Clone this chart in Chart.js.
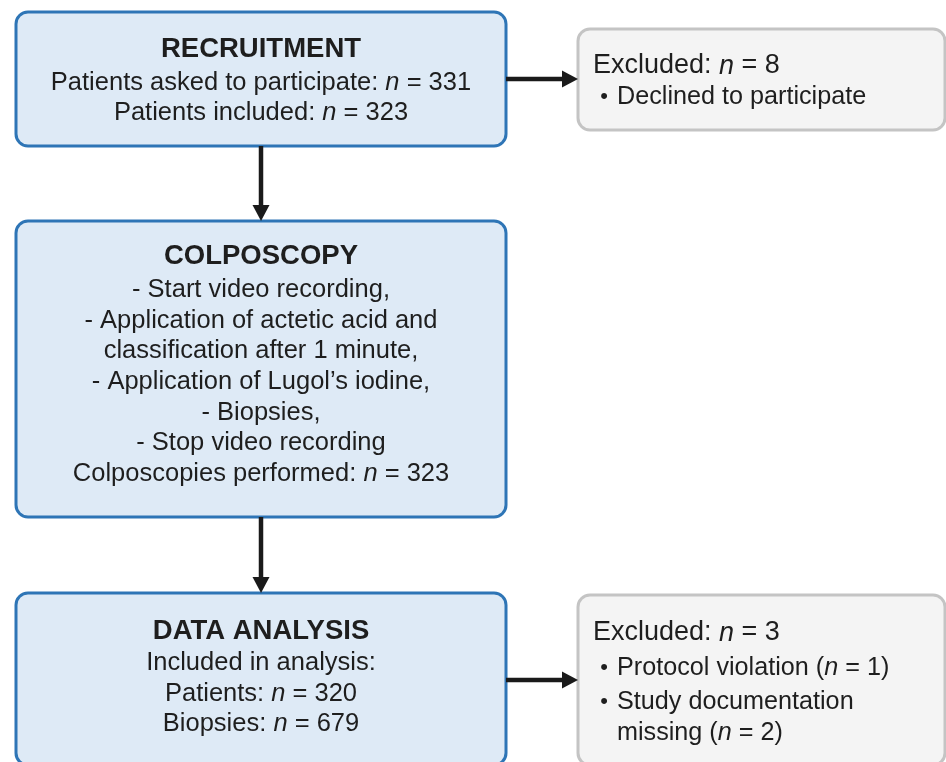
<!DOCTYPE html>
<html>
<head>
<meta charset="utf-8">
<script src="https://cdn.jsdelivr.net/npm/chart.js@4.4.1/dist/chart.umd.min.js"></script>
<style>
  html, body { margin: 0; padding: 0; background: #fff; }
  canvas { display: block; }
</style>
</head>
<body>
<canvas id="flowChart" width="946" height="762"></canvas>
<script>
// values
const stageTitles = ["RECRUITMENT", "COLPOSCOPY", "DATA ANALYSIS"];
const recruitmentN = [331, 323];          // asked, included
const colposcopySteps = [
  "- Start video recording,",
  "- Application of actetic acid and",
  "classification after 1 minute,",
  "- Application of Lugol\u2019s iodine,",
  "- Biopsies,",
  "- Stop video recording"
];
const colposcopyN = [323];
const analysisN = [320, 679];             // patients, biopsies
const excludedN = [8, 3];
const exclusionReasons = [
  [["Declined to participate", null]],
  [["Protocol violation", 1], ["Study documentation|missing", 2]]
];

const FONT = '"Liberation Sans", Arial, sans-serif';
const TEXT = "#1e1e1e";

// italic n = value
function nEq(v) { return [["n", true], [" = " + v, false]]; }
function plain(t) { return [[t, false]]; }

const stageLines = [
  [[["Patients asked to participate: ", false], ...nEq(recruitmentN[0])],
   [["Patients included: ", false], ...nEq(recruitmentN[1])]],
  [...colposcopySteps.map(plain),
   [["Colposcopies performed: ", false], ...nEq(colposcopyN[0])]],
  [plain("Included in analysis:"),
   [["Patients: ", false], ...nEq(analysisN[0])],
   [["Biopsies: ", false], ...nEq(analysisN[1])]]
];

// box geometry (in axis units)
const stageBoxes = [
  { x0: 16, x1: 506, y0: 12, y1: 146, title: 49, lines: [83, 113] },
  { x0: 16, x1: 506, y0: 221, y1: 517, title: 256, lines: [290, 321, 351, 382, 413, 443, 474] },
  { x0: 16, x1: 506, y0: 593, y1: 765, title: 631, lines: [663, 694, 724] }
];
const exclBoxes = [
  { x0: 578, x1: 945, y0: 29, y1: 130, head: 66, lines: [[97]] },
  { x0: 578, x1: 945, y0: 595, y1: 765, head: 633, lines: [[668], [702, 733]] }
];
const flowArrows = [
  { from: [261, 146], to: [261, 221] },
  { from: [261, 517], to: [261, 593] },
  { from: [506, 79], to: [578, 79] },
  { from: [506, 680], to: [578, 680] }
];

function drawRich(ctx, segs, x, y, align, size, bold) {
  const fontFor = (it) => (it ? "italic " : "") + (bold ? "bold " : "") + size + "px " + FONT;
  let total = 0;
  segs.forEach(([t, it]) => { ctx.font = fontFor(it); total += ctx.measureText(t).width; });
  let cx = align === "center" ? x - total / 2 : x;
  ctx.textAlign = "left";
  ctx.textBaseline = "middle";
  ctx.fillStyle = TEXT;
  segs.forEach(([t, it]) => {
    ctx.font = fontFor(it);
    ctx.fillText(t, cx, y);
    cx += ctx.measureText(t).width;
  });
}

function box(ctx, sx, sy, b, fill, stroke) {
  const x0 = sx(b.x0), x1 = sx(b.x1), y0 = sy(b.y0), y1 = sy(b.y1);
  ctx.beginPath();
  ctx.roundRect(x0, y0, x1 - x0, y1 - y0, 12);
  ctx.fillStyle = fill;
  ctx.fill();
  ctx.lineWidth = 3;
  ctx.strokeStyle = stroke;
  ctx.stroke();
}

function arrow(ctx, sx, sy, a) {
  const x0 = sx(a.from[0]), y0 = sy(a.from[1]), x1 = sx(a.to[0]), y1 = sy(a.to[1]);
  const ang = Math.atan2(y1 - y0, x1 - x0);
  const head = 16, half = 8.5;
  ctx.strokeStyle = "#1a1a1a";
  ctx.fillStyle = "#1a1a1a";
  ctx.lineWidth = 4.5;
  ctx.beginPath();
  ctx.moveTo(x0, y0);
  ctx.lineTo(x1 - head * Math.cos(ang), y1 - head * Math.sin(ang));
  ctx.stroke();
  ctx.beginPath();
  ctx.moveTo(x1, y1);
  ctx.lineTo(x1 - head * Math.cos(ang) - half * Math.sin(ang), y1 - head * Math.sin(ang) + half * Math.cos(ang));
  ctx.lineTo(x1 - head * Math.cos(ang) + half * Math.sin(ang), y1 - head * Math.sin(ang) - half * Math.cos(ang));
  ctx.closePath();
  ctx.fill();
}

const flowPlugin = {
  id: "flow",
  afterDraw(chart) {
    const ctx = chart.ctx;
    const sx = (v) => chart.scales.x.getPixelForValue(v);
    const sy = (v) => chart.scales.y.getPixelForValue(v);
    ctx.save();

    stageBoxes.forEach((b, i) => {
      box(ctx, sx, sy, b, "#deeaf6", "#2e75b6");
      const cx = sx((b.x0 + b.x1) / 2);
      drawRich(ctx, [[stageTitles[i], false]], cx, sy(b.title), "center", 27.5, true);
      stageLines[i].forEach((segs, j) => drawRich(ctx, segs, cx, sy(b.lines[j]), "center", 25.5, false));
    });

    exclBoxes.forEach((b, i) => {
      box(ctx, sx, sy, b, "#f4f4f4", "#c4c4c4");
      drawRich(ctx, [["Excluded: ", false], ...nEq(excludedN[i])], sx(593), sy(b.head), "left", 27, false);
      exclusionReasons[i].forEach(([label, n], j) => {
        const parts = label.split("|");
        const rows = b.lines[j];
        drawRich(ctx, [["\u2022", false]], sx(604), sy(rows[0]), "center", 22, false);
        parts.forEach((p, k) => {
          let segs = [[p, false]];
          if (k === parts.length - 1 && n !== null) {
            segs = [[p + " (", false], ["n", true], [" = " + n + ")", false]];
          }
          drawRich(ctx, segs, sx(617), sy(rows[k]), "left", 25.2, false);
        });
      });
    });

    flowArrows.forEach((a) => arrow(ctx, sx, sy, a));
    ctx.restore();
  }
};

new Chart(document.getElementById("flowChart").getContext("2d"), {
  type: "scatter",
  data: { datasets: [{ data: [], pointRadius: 0 }] },
  options: {
    responsive: false,
    animation: false,
    layout: { padding: 0 },
    plugins: { legend: { display: false }, tooltip: { enabled: false } },
    scales: {
      x: { type: "linear", min: 0, max: 946, display: false },
      y: { type: "linear", min: 0, max: 762, reverse: true, display: false }
    }
  },
  plugins: [flowPlugin]
});
</script>
</body>
</html>
